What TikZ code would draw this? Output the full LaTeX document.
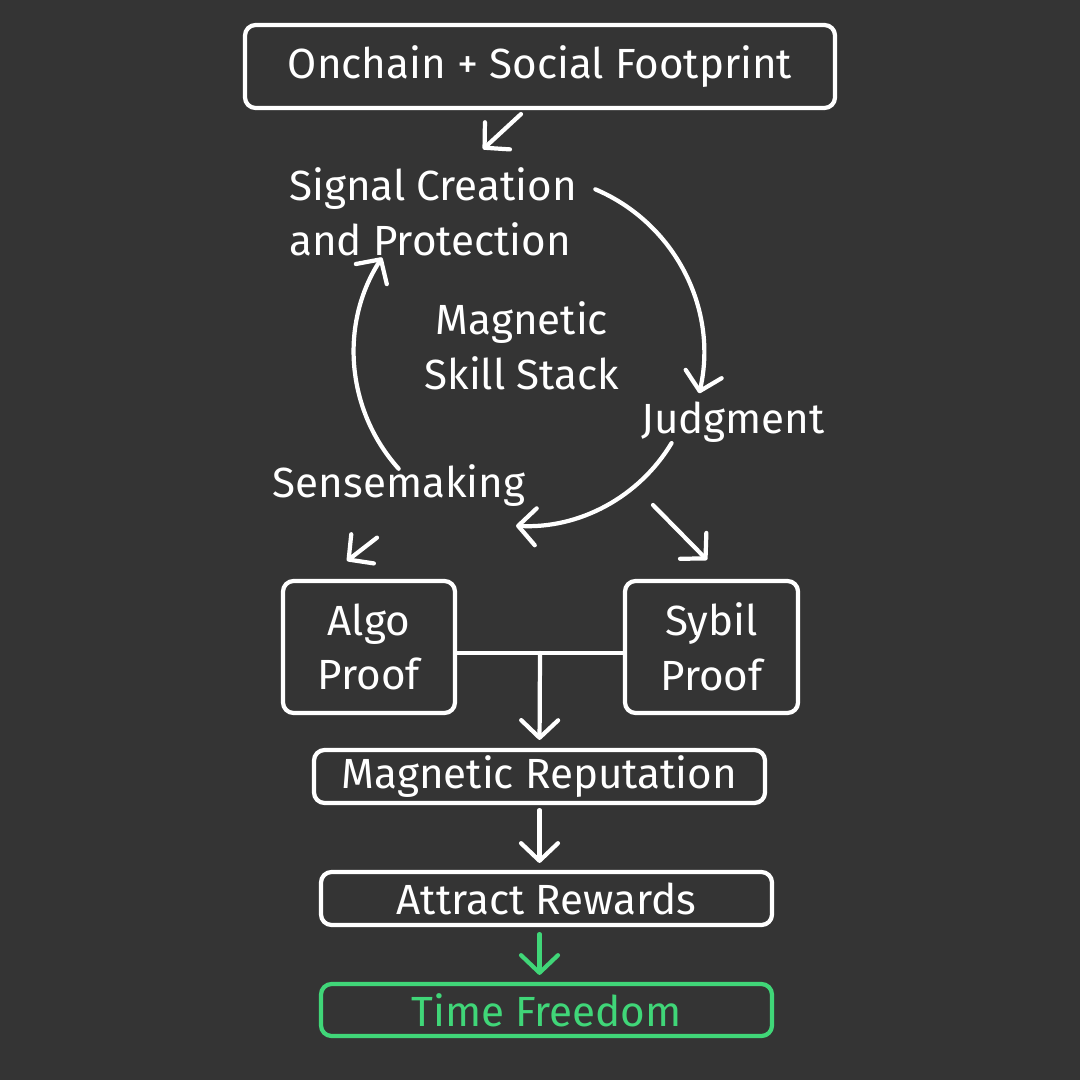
\documentclass[tikz,border=0pt]{standalone}
\usepackage{fontspec}
\setmainfont{Fira Sans}
\usetikzlibrary{positioning,arrows.meta,calc}
\definecolor{bgdark}{RGB}{52,52,52}
\definecolor{okgreen}{RGB}{64,214,120}
\tikzset{
  stepbox/.style={draw=white,line width=1.2pt,rounded corners=3pt,text=white,inner sep=0pt},
  lbl/.style={text=white,inner sep=0pt,font=\fontsize{12}{15.6}\selectfont},
  arr/.style={draw=white,line width=1.2pt,line cap=round,-{Straight Barb[length=5pt,width=10.5pt,round]}}
}
\begin{document}
\begin{tikzpicture}[font=\fontsize{12}{15.6}\selectfont]
\fill[bgdark] (0,0) rectangle (10.8,-10.8);
\useasboundingbox (0,0) rectangle (10.8,-10.8);
% top box and the skill cycle
\node[stepbox,minimum width=5.9cm,minimum height=0.83cm] (foot) at (5.40,-0.665) {Onchain + Social Footprint};
\node[lbl,align=left] (sig) at (4.33,-2.12) {Signal Creation\\and Protection};
\node[lbl,align=center] (skill) at (5.22,-3.46) {Magnetic\\Skill Stack};
\node[lbl] (judg) at (7.33,-4.22) {Judgment};
\node[lbl] (sense) at (3.99,-4.86) {Sensemaking};
\coordinate (ctr) at (5.25,-3.55);
% proofs and the chain below
\node[stepbox,minimum width=1.72cm,minimum height=1.32cm,align=center] (algo) at (3.69,-6.47) {Algo\\Proof};
\node[stepbox,minimum width=1.73cm,minimum height=1.32cm,align=center] (sybil) at (7.115,-6.47) {Sybil\\Proof};
\node[stepbox,minimum width=4.51cm,minimum height=0.53cm] (rep) at (5.395,-7.765) {Magnetic Reputation};
\node[stepbox,minimum width=4.51cm,minimum height=0.53cm] (attr) at (5.465,-8.985) {Attract Rewards};
\node[stepbox,draw=okgreen,text=okgreen,minimum width=4.51cm,minimum height=0.52cm] (free) at (5.465,-10.10) {Time Freedom};
\draw[arr] ([xshift=-0.19cm,yshift=-0.04cm]foot.south) -- ([xshift=0.50cm,yshift=0.18cm]sig.north);
\draw[arr] ([shift={(67:1.80)}]ctr) arc[start angle=67,end angle=-13,radius=1.78];
\draw[arr] ([shift={(-31:1.71)}]ctr) arc[start angle=-31,end angle=-93,radius=1.71];
\draw[arr] ([shift={(-138:1.70)}]ctr) arc[start angle=-138,end angle=-213,radius=1.74];
\draw[arr] ([xshift=-0.22cm,yshift=-0.30cm]sense.south) -- ([xshift=-0.22cm,yshift=0.18cm]algo.north);
\draw[arr] ([xshift=-0.80cm,yshift=-0.62cm]judg.south) -- ([xshift=-0.045cm,yshift=0.19cm]sybil.north);
\draw[white,line width=1.2pt] ([yshift=-0.06cm]algo.east) -- ([yshift=-0.06cm]sybil.west);
\draw[arr,shorten >=0.08cm] ($([yshift=-0.06cm]algo.east)!0.5!([yshift=-0.06cm]sybil.west)$) -- (rep.north);
\draw[arr,shorten <=0.05cm,shorten >=0.07cm] (rep.south) -- (rep.south |- attr.north);
\draw[arr,draw=okgreen,shorten <=0.07cm,shorten >=0.07cm] (attr.south -| rep.south) -- (rep.south |- free.north);
\end{tikzpicture}
\end{document}
